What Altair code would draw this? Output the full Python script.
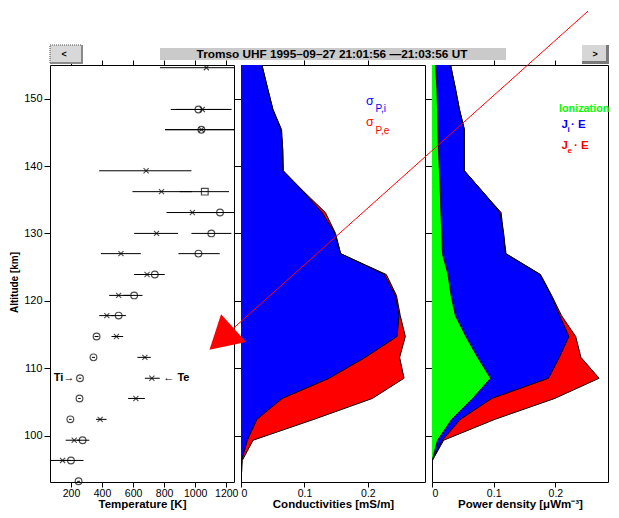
import altair as alt
import pandas as pd

FONT = "Liberation Sans"

# ---------------- panel 1: ion / electron temperature ----------------
t_alt = [154.6, 148.4, 145.4, 139.3, 136.2, 133.1, 130.0, 127.0, 123.9, 120.8,
         117.8, 114.7, 111.6, 108.5, 105.5, 102.4, 99.3, 96.3, 93.2]
ti = [None, 1021, 1040, None, 1062, 1160, 1104, 1021, 740, 607,
      507, 365, 345, 258, 255, 196, 275, 200, 249]
ti_lo = [None, 843, 806, None, 900, 1000, 976, 892, 650, 540,
         460, 352, 335, 250, 247, 188, 240, 150, 240]
ti_hi = [None, 1233, 1300, None, 1218, 1320, 1233, 1158, 804, 661,
         554, 378, 355, 266, 263, 204, 318, 281, 258]
ti_sym = ["circle", "circle", "circle", "circle", "square", "circle", "circle", "circle",
          "circle", "circle", "circle", "circle", "circle", "circle", "circle", "circle",
          "circle", "circle", "circle"]
te = [1072, 1046, 1040, 684, 783, 982, 751, 522, 690, 507,
      431, 493, 676, 721, 618, 388, 221, 146, None]
te_lo = [773, 870, 806, 382, 596, 815, 607, 393, 607, 446,
         382, 461, 628, 676, 568, 361, 166, 60, None]
te_hi = [1300, 1233, 1300, 976, 980, 1150, 890, 650, 760, 580,
         480, 536, 714, 772, 676, 429, 260, 200, None]

ann_label = ["Ti\u2192", "\u2190  Te"]
ann_T = [222, 795]
ann_alt = [108.5, 108.5]

# ---------------- panels 2 and 3: common altitude grid ----------------
h_grid = [94.5, 96.3, 99.3, 102.4, 105.5, 108.5, 111.6, 114.7, 117.8, 120.8, 123.9,
          127.0, 130.0, 133.1, 136.2, 139.3, 142.4, 145.4, 148.4, 151.5, 154.6, 157.7]
sigma_Pi = [0.0005, 0.001, 0.010, 0.025, 0.065, 0.139, 0.196, 0.246, 0.249, 0.243, 0.226,
            0.157, 0.148, 0.128, 0.098, 0.0665, 0.0658, 0.063, 0.050, 0.042, 0.034, 0.028]
sigma_Pe = [0.0005, 0.001, 0.009, 0.090, 0.142, 0.118, 0.054, 0.013, 0.002, 0.002, 0.003,
            0.000, 0.001, 0.005, 0.001, 0.0, 0.0, 0.001, 0.0005, 0.0, 0.0, 0.0]
ionization = [0.0003, 0.0005, 0.009, 0.032, 0.066, 0.095, 0.074, 0.055, 0.038, 0.031, 0.026,
              0.017, 0.016, 0.0145, 0.0135, 0.012, 0.0105, 0.0095, 0.009, 0.008, 0.006, 0.005]
JiE = [0.0003, 0.0005, 0.017, 0.046, 0.097, 0.189, 0.2065, 0.222, 0.207, 0.193, 0.175,
       0.119, 0.116, 0.110, 0.082, 0.0525, 0.0525, 0.0525, 0.0445, 0.038, 0.031, 0.026]
JeE = [0.0, 0.0, 0.002, 0.056, 0.102, 0.082, 0.035, 0.011, 0.003, 0.001, 0.001,
       0.001, 0.0, 0.002, 0.0, 0.0, 0.0, 0.0, 0.0, 0.0, 0.0, 0.0]

# annotation arrow (in power-density / altitude data units of panel 3)
arrow_power = [0.2530, -0.3211]
arrow_alt = [163.0, 116.0]
head_power = [-0.3413]
head_alt = [114.34]

TITLE = "Tromso UHF 1995\u201309\u201327  21:01:56 \u201421:03:56 UT"

# ---------------- tables ----------------
temp = pd.DataFrame({"alt": t_alt, "ti": ti, "ti_lo": ti_lo, "ti_hi": ti_hi, "sym": ti_sym,
                     "te": te, "te_lo": te_lo, "te_hi": te_hi})
ti_df = temp.dropna(subset=["ti"])
te_df = temp.dropna(subset=["te"])

cond = pd.DataFrame({"alt": h_grid, "sig_i": sigma_Pi, "sig_e": sigma_Pe})
cond["tot"] = cond["sig_i"] + cond["sig_e"]

powr = pd.DataFrame({"alt": h_grid, "ion": ionization, "ji": JiE, "je": JeE})
powr["tot"] = powr["ji"] + powr["je"]

arrow_df = pd.DataFrame({"p": arrow_power, "alt": arrow_alt, "k": [0, 1]})
head_df = pd.DataFrame({"p": head_power, "alt": head_alt})
one = pd.DataFrame({"k": [0]})

W1, W2, W3, H = 184, 184, 176, 417
T_SCALE = alt.Scale(domain=[65, 1250], nice=False, zero=False)
H_SCALE = alt.Scale(domain=[93.1, 155], nice=False, zero=False)
C_SCALE = alt.Scale(domain=[0, 0.29], nice=False)
P_SCALE = alt.Scale(domain=[0, 0.30 * W3 / 185], nice=False)

ALT_TICKS = [100, 110, 120, 130, 140, 150]


def ax(**kw):
    base = dict(domain=False, grid=False, labelFont=FONT, labelFontSize=10.5, labelColor="black",
                tickColor="black", tickWidth=1, titleFont=FONT, titleFontSize=11.5,
                titleFontWeight="bold", titleColor="black")
    base.update(kw)
    return alt.Axis(**base)


y_ticks_only = ax(orient="left", values=ALT_TICKS, labels=False, tickSize=7, title=None)


def txt(text, x, y, size=11, color="black", weight="normal", align="left"):
    return alt.Chart(one).mark_text(text=text, font=FONT, fontSize=size, fontWeight=weight,
                                    color=color, align=align, baseline="alphabetic").encode(
        x=alt.value(x), y=alt.value(y))


def box(x, x2, y, y2, fill, stroke=None, dash=None):
    kw = dict(fill=fill)
    if stroke:
        kw["stroke"] = stroke
        kw["strokeWidth"] = 1
    if dash:
        kw["strokeDash"] = dash
    return alt.Chart(one).mark_rect(**kw).encode(
        x=alt.value(x), x2=alt.value(x2), y=alt.value(y), y2=alt.value(y2))


# ---------------- panel 1 ----------------
x1_bottom = ax(orient="bottom", values=[200, 400, 600, 800, 1000, 1200], format="d",
               tickSize=5, labelPadding=1, title="Temperature [K]", titlePadding=0)
x1_top = ax(orient="top", values=[200, 400, 600, 800, 1000, 1200], labels=False,
            tickSize=5, title=None)
y1_left = ax(orient="left", values=ALT_TICKS, format="d", tickSize=6, labelPadding=2,
             labelFontSize=11, title="Altitude [km]", titleFontSize=10, titleX=-36, titleY=217,
             titleAngle=270, titleAlign="center", titleBaseline="middle")

te_err = alt.Chart(te_df).mark_rule(color="black", strokeWidth=1, clip=True).encode(
    x=alt.X("te_lo:Q", scale=T_SCALE, axis=x1_bottom), x2="te_hi:Q",
    y=alt.Y("alt:Q", scale=H_SCALE, axis=y1_left))
ti_err = alt.Chart(ti_df).mark_rule(color="black", strokeWidth=1, clip=True).encode(
    x=alt.X("ti_lo:Q", scale=T_SCALE, axis=x1_top), x2="ti_hi:Q",
    y=alt.Y("alt:Q", scale=H_SCALE, axis=None))
te_pts = alt.Chart(te_df).mark_point(shape="M-1,-1L1,1M-1,1L1,-1", filled=False, color="black",
                                     size=26, strokeWidth=1.1).encode(
    x=alt.X("te:Q", scale=T_SCALE, axis=None), y=alt.Y("alt:Q", scale=H_SCALE, axis=None))
ti_pts = alt.Chart(ti_df).mark_point(filled=False, color="black", size=45, strokeWidth=1.2).encode(
    x=alt.X("ti:Q", scale=T_SCALE, axis=None), y=alt.Y("alt:Q", scale=H_SCALE, axis=None),
    shape=alt.Shape("sym:N", scale=alt.Scale(domain=["circle", "square"], range=["circle", "square"]),
                    legend=None))
ann_ti = alt.Chart(pd.DataFrame({"t": [ann_T[0]], "alt": [ann_alt[0]], "lab": [ann_label[0]]})).mark_text(
    font=FONT, fontSize=11, fontWeight="bold", color="black", align="right", baseline="middle").encode(
    x=alt.X("t:Q", scale=T_SCALE, axis=None), y=alt.Y("alt:Q", scale=H_SCALE, axis=None), text="lab:N")
ann_te = alt.Chart(pd.DataFrame({"t": [ann_T[1]], "alt": [ann_alt[1]], "lab": [ann_label[1]]})).mark_text(
    font=FONT, fontSize=11, fontWeight="bold", color="black", align="left", baseline="middle").encode(
    x=alt.X("t:Q", scale=T_SCALE, axis=None), y=alt.Y("alt:Q", scale=H_SCALE, axis=None), text="lab:N")

decor = [
    box(110, 456, -17, -5, "#cacaca"),
    txt(TITLE, 282, -7.5, size=11.8, weight="bold", align="center"),
    box(0, 32, -20, -2, "#d8d8d8", stroke="#505050", dash=[1, 1]),
    box(31, 33, -20, -2, "#8a8a8a"),
    box(0, 33, -3, -1, "#8a8a8a"),
    txt("<", 14, -8, size=9, weight="bold", align="center"),
    box(532, 557, -20, -2, "#d6d6d6"),
    box(556, 559, -20, -1, "#7a7a7a"),
    box(532, 559, -4, -1, "#7a7a7a"),
    txt(">", 545, -8, size=9, weight="bold", align="center"),
]

p1 = alt.layer(te_err, ti_err, te_pts, ti_pts, ann_ti, ann_te, *decor).resolve_axis(
    x="independent", y="independent").properties(width=W1, height=H)

# ---------------- panel 2 ----------------
x2_bottom = ax(orient="bottom", values=[0, 0.1, 0.2], format="~g", tickSize=5, labelPadding=1,
               title="Conductivities [mS/m]", titlePadding=0)
x2_top = ax(orient="top", values=[0.1, 0.2], labels=False, tickSize=5, title=None)

red2 = alt.Chart(cond).mark_area(orient="horizontal", color="#ff0000", clip=True).encode(
    x=alt.X("tot:Q", scale=C_SCALE, axis=x2_bottom), y=alt.Y("alt:Q", scale=H_SCALE, axis=y_ticks_only))
blue2 = alt.Chart(cond).mark_area(orient="horizontal", color="#0000ff", clip=True).encode(
    x=alt.X("sig_i:Q", scale=C_SCALE, axis=x2_top), y=alt.Y("alt:Q", scale=H_SCALE, axis=None))
edge2 = [
    alt.Chart(cond).mark_line(color="black", strokeWidth=1, clip=True).encode(
        x=alt.X(f"{f}:Q", scale=C_SCALE, axis=None), y=alt.Y("alt:Q", scale=H_SCALE, axis=None),
        order="alt:Q")
    for f in ["sig_i", "tot"]
]
leg2 = [
    txt("\u03c3", 125, 39.5, size=12.5, color="#0000ff"),
    txt("P,i", 134.5, 47, size=10, color="#0000ff"),
    txt("\u03c3", 125, 61, size=12.5, color="#ff0000"),
    txt("P,e", 134.5, 69, size=10, color="#ff0000"),
]
p2 = alt.layer(red2, blue2, *edge2, *leg2).resolve_axis(
    x="independent", y="independent").properties(width=W2, height=H)

# ---------------- panel 3 ----------------
x3_bottom = ax(orient="bottom", values=[0, 0.1, 0.2], format="~g", tickSize=5, labelPadding=1,
               title="Power density [\u03bcWm\u207b\u00b3]", titlePadding=0)
x3_top = ax(orient="top", values=[0.1, 0.2], labels=False, tickSize=5, title=None)

red3 = alt.Chart(powr).mark_area(orient="horizontal", color="#ff0000", clip=True).encode(
    x=alt.X("tot:Q", scale=P_SCALE, axis=x3_bottom), y=alt.Y("alt:Q", scale=H_SCALE, axis=y_ticks_only))
blue3 = alt.Chart(powr).mark_area(orient="horizontal", color="#0000ff", clip=True).encode(
    x=alt.X("ji:Q", scale=P_SCALE, axis=x3_top), y=alt.Y("alt:Q", scale=H_SCALE, axis=None))
green3 = alt.Chart(powr).mark_area(orient="horizontal", color="#00ff00", clip=True).encode(
    x=alt.X("ion:Q", scale=P_SCALE, axis=None), y=alt.Y("alt:Q", scale=H_SCALE, axis=None))
edge3 = [
    alt.Chart(powr).mark_line(color="black", strokeWidth=1, clip=True).encode(
        x=alt.X(f"{f}:Q", scale=P_SCALE, axis=None), y=alt.Y("alt:Q", scale=H_SCALE, axis=None),
        order="alt:Q")
    for f in ["ion", "ji", "tot"]
]
leg3 = [
    txt("Ionization", 127, 47, size=10.8, color="#00ff00", weight="bold"),
    txt("J", 129.5, 63, size=11.5, color="#0000ff", weight="bold"),
    txt("i", 135.5, 67, size=8, color="#0000ff", weight="bold"),
    txt("\u00b7 E", 139, 63, size=11.5, color="#0000ff", weight="bold"),
    txt("J", 129.5, 84, size=11.5, color="#ff0000", weight="bold"),
    txt("e", 135.5, 88, size=8, color="#ff0000", weight="bold"),
    txt("\u00b7 E", 142, 84, size=11.5, color="#ff0000", weight="bold"),
]
arrow_line = alt.Chart(arrow_df).mark_line(color="#ff0000", strokeWidth=1, clip=False).encode(
    x=alt.X("p:Q", scale=P_SCALE, axis=None), y=alt.Y("alt:Q", scale=H_SCALE, axis=None), order="k:Q")
arrow_head = alt.Chart(head_df).mark_point(shape="triangle-up", angle=228, size=1400, filled=True,
                                           color="#ff0000", opacity=1, strokeWidth=0, clip=False).encode(
    x=alt.X("p:Q", scale=P_SCALE, axis=None), y=alt.Y("alt:Q", scale=H_SCALE, axis=None))

p3 = alt.layer(red3, blue3, green3, *edge3, *leg3, arrow_line, arrow_head).resolve_axis(
    x="independent", y="independent").properties(width=W3, height=H)

chart = alt.hconcat(p1, p2, p3, spacing=7, bounds="flush").properties(
    padding={"left": 0, "top": 0, "right": 0, "bottom": 0}
).configure(background="white").configure_view(stroke="black", strokeWidth=1)

chart.save("out.html", embed_options={"renderer": "svg", "actions": False})
